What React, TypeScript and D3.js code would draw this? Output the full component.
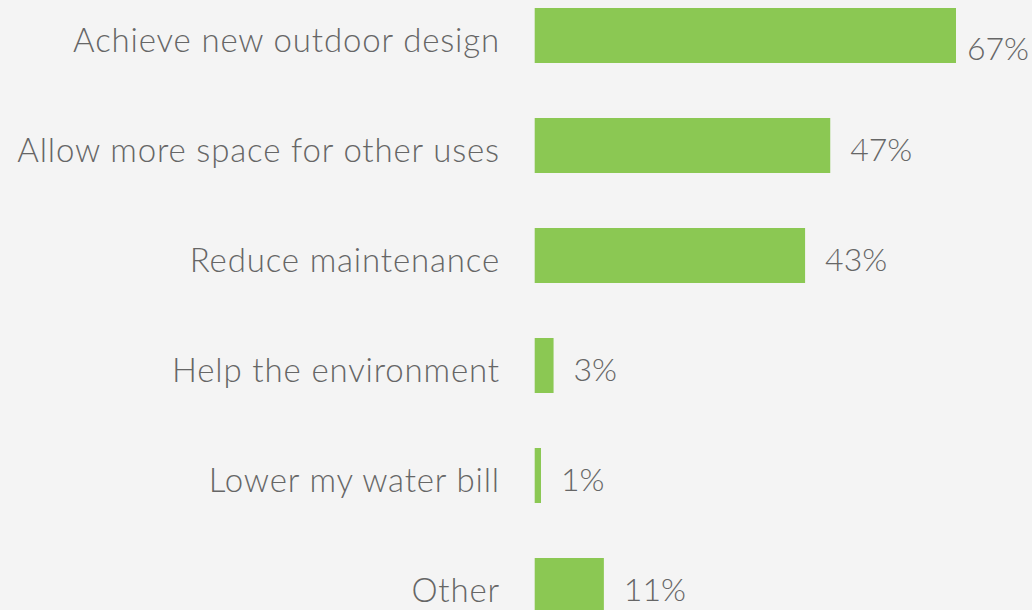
import React from "react";
import * as d3 from "d3";

const categories = [
  "Achieve new outdoor design",
  "Allow more space for other uses",
  "Reduce maintenance",
  "Help the environment",
  "Lower my water bill",
  "Other",
];
const values = [67, 47, 43, 3, 1, 11];

const W = 1032;
const H = 610;
const FONT = "Lato, 'Open Sans', sans-serif";

export default function App() {
  const x = d3.scaleLinear().domain([0, 67]).range([534.7, 956]);
  const y = d3
    .scaleBand<string>()
    .domain(categories)
    .range([-19.5, 640.5])
    .paddingInner(0.5)
    .paddingOuter(0.25);

  return (
    <svg
      width={W}
      height={H}
      style={{ position: "absolute", left: 0, top: 0, background: "#f4f4f4" }}
    >
      <rect x={0} y={0} width={W} height={H} fill="#f4f4f4" />
      {categories.map((c, i) => {
        const v = values[i];
        const y0 = y(c)!;
        const bw = y.bandwidth();
        const cy = y0 + bw / 2;
        const xe = x(v);
        const label = `${v}%`;
        const labelW = label.length * 20;
        let lx = xe + 20;
        let ly = cy + 3;
        if (lx + labelW > W) {
          lx = xe + 11;
          ly = cy + 12;
        }
        return (
          <g key={c}>
            <rect x={x(0)} y={y0} width={xe - x(0)} height={bw} fill="#8bc853" />
            <text
              x={500}
              y={cy + 3}
              textAnchor="end"
              dominantBaseline="central"
              fontFamily={FONT}
              fontWeight={300}
              fontSize={33}
              letterSpacing={0.85}
              fill="#666666"
            >
              {c}
            </text>
            <text
              x={lx}
              y={ly}
              dominantBaseline="central"
              fontFamily={FONT}
              fontWeight={300}
              fontSize={32}
              fill="#666666"
            >
              {label}
            </text>
          </g>
        );
      })}
    </svg>
  );
}
